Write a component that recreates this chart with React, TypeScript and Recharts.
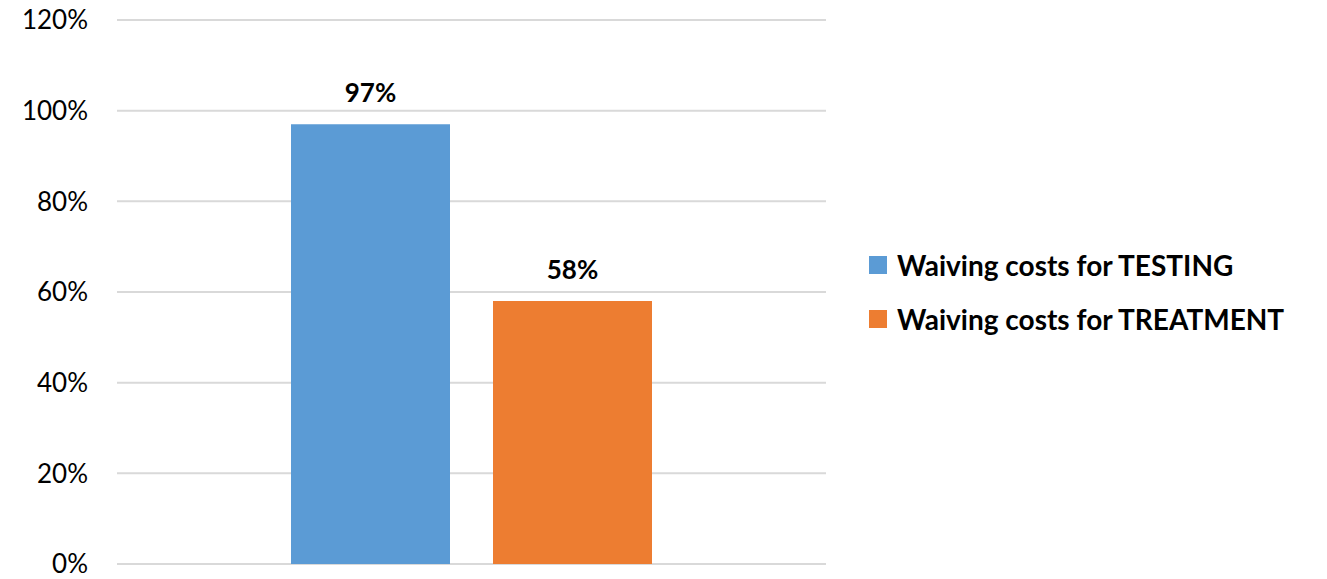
import React from 'react';
import { BarChart, Bar, XAxis, YAxis, CartesianGrid, Legend, LabelList } from 'recharts';

const categories = ['All'];
const testingValues = [97];
const treatmentValues = [58];
const seriesNames = ['Waiving costs for TESTING', 'Waiving costs for TREATMENT'];
const seriesColors = ['#5B9BD5', '#ED7D31'];
const yTicks = [0, 20, 40, 60, 80, 100, 120];

const data = categories.map((c, i) => ({
  name: c,
  testing: testingValues[i],
  treatment: treatmentValues[i],
}));

const FONT = 'Lato, "Open Sans", sans-serif';

const renderLegend = (props: any) => {
  const { payload } = props;
  return (
    <div style={{ fontFamily: FONT }}>
      {payload.map((entry: any, i: number) => (
        <div key={i} style={{ display: 'flex', alignItems: 'center', height: 54 }}>
          <div style={{ width: 18, height: 18, background: entry.color, marginRight: 10 }} />
          <span style={{ fontWeight: 700, fontSize: 28, color: '#000', whiteSpace: 'nowrap' }}>{entry.value}</span>
        </div>
      ))}
    </div>
  );
};

export default function App() {
  return (
    <div style={{ position: 'absolute', left: 0, top: 0, width: 1327, height: 579, background: '#fff' }}>
      <BarChart
        width={1327}
        height={579}
        data={data}
        margin={{ top: 20, right: 51, bottom: 15, left: 0 }}
        barGap={43}
        barSize={159}
      >
        <CartesianGrid vertical={false} stroke="#D9D9D9" strokeWidth={2} />
        <XAxis dataKey="name" hide />
        <YAxis
          width={117}
          domain={[0, 120]}
          ticks={yTicks}
          interval={0}
          axisLine={false}
          tickLine={false}
          tickMargin={23}
          tickFormatter={(v: number) => `${v}%`}
          tick={{ fill: '#000', fontSize: 26, fontFamily: FONT }}
        />
        <Legend
          content={renderLegend}
          layout="vertical"
          align="right"
          verticalAlign="middle"
          wrapperStyle={{ left: 869, top: 238, width: 450, height: 108 }}
        />
        <Bar dataKey="testing" name={seriesNames[0]} fill={seriesColors[0]} isAnimationActive={false}>
          <LabelList
            dataKey="testing"
            position="top"
            offset={22}
            formatter={(v: any) => `${v}%`}
            style={{ fill: '#000', fontSize: 26, fontWeight: 700, fontFamily: FONT }}
          />
        </Bar>
        <Bar dataKey="treatment" name={seriesNames[1]} fill={seriesColors[1]} isAnimationActive={false}>
          <LabelList
            dataKey="treatment"
            position="top"
            offset={22}
            formatter={(v: any) => `${v}%`}
            style={{ fill: '#000', fontSize: 26, fontWeight: 700, fontFamily: FONT }}
          />
        </Bar>
      </BarChart>
    </div>
  );
}
